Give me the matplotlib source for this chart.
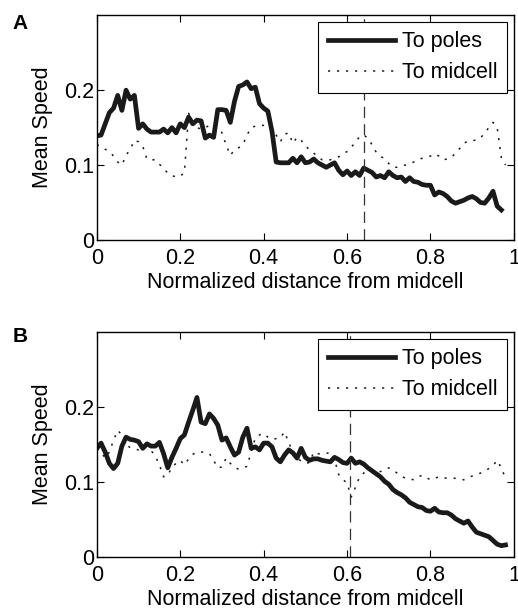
import numpy as np
import matplotlib
matplotlib.use("Agg")
import matplotlib.pyplot as plt

plt.rcParams['font.family'] = ['Liberation Sans', 'DejaVu Sans']

# panel A, sampled every 0.01 of normalized distance
poles_a = [0.139, 0.140, 0.155, 0.170, 0.176, 0.193, 0.173, 0.200, 0.188, 0.193,
           0.149, 0.155, 0.148, 0.144, 0.144, 0.144, 0.148, 0.143, 0.150, 0.143,
           0.155, 0.150, 0.164, 0.155, 0.160, 0.159, 0.136, 0.140, 0.137, 0.174,
           0.174, 0.173, 0.157, 0.185, 0.205, 0.207, 0.211, 0.202, 0.204, 0.182,
           0.176, 0.172, 0.145, 0.104, 0.103, 0.103, 0.103, 0.109, 0.103, 0.111,
           0.103, 0.104, 0.108, 0.103, 0.100, 0.097, 0.100, 0.103, 0.093, 0.087,
           0.092, 0.086, 0.091, 0.086, 0.096, 0.093, 0.090, 0.084, 0.086, 0.083,
           0.091, 0.086, 0.083, 0.084, 0.078, 0.083, 0.078, 0.077, 0.074, 0.073,
           0.073, 0.060, 0.064, 0.062, 0.058, 0.052, 0.049, 0.051, 0.053, 0.056,
           0.058, 0.055, 0.050, 0.049, 0.056, 0.065, 0.045, 0.040]
mid_a = [0.127, 0.125, 0.121, 0.118, 0.112, 0.104, 0.100, 0.113, 0.121, 0.133,
         0.131, 0.125, 0.108, 0.107, 0.107, 0.101, 0.096, 0.089, 0.086, 0.084,
         0.085, 0.090, 0.169, 0.158, 0.150, 0.148, 0.150, 0.153, 0.152, 0.151,
         0.143, 0.127, 0.113, 0.120, 0.123, 0.127, 0.140, 0.150, 0.152, 0.153,
         0.153, 0.151, 0.149, 0.140, 0.131, 0.141, 0.143, 0.129, 0.137, 0.133,
         0.125, 0.121, 0.116, 0.111, 0.107, 0.107, 0.107, 0.109, 0.111, 0.115,
         0.118, 0.124, 0.130, 0.138, 0.140, 0.136, 0.127, 0.117, 0.112, 0.108,
         0.102, 0.097, 0.097, 0.099, 0.100, 0.102, 0.104, 0.107, 0.109, 0.110,
         0.112, 0.115, 0.112, 0.107, 0.108, 0.110, 0.116, 0.122, 0.129, 0.132,
         0.133, 0.133, 0.136, 0.143, 0.150, 0.157, 0.150, 0.110, 0.100]

# panel B
poles_b = [0.145, 0.152, 0.140, 0.125, 0.118, 0.125, 0.148, 0.160, 0.157, 0.156,
           0.154, 0.145, 0.151, 0.148, 0.148, 0.153, 0.138, 0.119, 0.133, 0.145,
           0.158, 0.163, 0.180, 0.196, 0.213, 0.180, 0.178, 0.191, 0.185, 0.176,
           0.156, 0.159, 0.147, 0.136, 0.140, 0.160, 0.172, 0.145, 0.147, 0.143,
           0.152, 0.152, 0.147, 0.132, 0.127, 0.136, 0.143, 0.139, 0.132, 0.145,
           0.133, 0.129, 0.131, 0.131, 0.129, 0.128, 0.127, 0.133, 0.130, 0.126,
           0.125, 0.132, 0.125, 0.127, 0.124, 0.119, 0.115, 0.111, 0.107, 0.101,
           0.097, 0.090, 0.086, 0.083, 0.079, 0.073, 0.070, 0.067, 0.066, 0.062,
           0.061, 0.065, 0.060, 0.059, 0.059, 0.056, 0.051, 0.048, 0.045, 0.048,
           0.040, 0.033, 0.031, 0.029, 0.027, 0.022, 0.017, 0.015, 0.016]
mid_b = [0.145, 0.140, 0.132, 0.140, 0.156, 0.169, 0.163, 0.150, 0.146, 0.144,
         0.143, 0.148, 0.146, 0.142, 0.135, 0.123, 0.107, 0.109, 0.120, 0.125,
         0.129, 0.123, 0.131, 0.137, 0.140, 0.140, 0.140, 0.138, 0.129, 0.119,
         0.120, 0.132, 0.125, 0.120, 0.117, 0.119, 0.121, 0.140, 0.159, 0.163,
         0.165, 0.160, 0.157, 0.158, 0.159, 0.167, 0.153, 0.140, 0.132, 0.128,
         0.125, 0.126, 0.140, 0.138, 0.137, 0.138, 0.140, 0.130, 0.110, 0.103,
         0.099, 0.080, 0.093, 0.107, 0.112, 0.116, 0.115, 0.114, 0.114, 0.116,
         0.119, 0.116, 0.112, 0.108, 0.105, 0.104, 0.103, 0.107, 0.109, 0.106,
         0.103, 0.105, 0.107, 0.106, 0.105, 0.105, 0.105, 0.104, 0.103, 0.106,
         0.108, 0.110, 0.112, 0.115, 0.118, 0.122, 0.129, 0.119, 0.105]

vline_a = 0.64
vline_b = 0.607
xticks = [0, 0.2, 0.4, 0.6, 0.8, 1]
xticklabels = ["0", "0.2", "0.4", "0.6", "0.8", "1"]
yticks = [0, 0.1, 0.2]
yticklabels = ["0", "0.1", "0.2"]

fs = 15.5
fig = plt.figure(figsize=(5.18, 6.12), dpi=100)
axA = fig.add_axes([0.187, 0.608, 0.805, 0.367])
axB = fig.add_axes([0.187, 0.090, 0.805, 0.367])

panels = [(axA, poles_a, mid_a, vline_a, "A"), (axB, poles_b, mid_b, vline_b, "B")]
for ax, poles, mid, vl, lab in panels:
    xp = np.arange(len(poles)) * 0.01
    xm = np.arange(len(mid)) * 0.01
    ax.plot(xp, poles, color="#1a1a1a", lw=3.4, label="To poles")
    ax.plot(xm, mid, color="#1a1a1a", lw=1.1, linestyle=(0, (1.4, 4.5)), label="To midcell")
    ax.axvline(vl, color="#333333", lw=0.9, linestyle=(0, (9, 5)))
    ax.set_xlim(0, 1)
    ax.set_ylim(0, 0.3)
    ax.set_xticks(xticks)
    ax.set_xticklabels(xticklabels)
    ax.set_yticks(yticks)
    ax.set_yticklabels(yticklabels)
    ax.tick_params(direction="in", top=True, right=True, labelsize=fs, length=5, width=0.8)
    ax.tick_params(axis="x", pad=6)
    ax.tick_params(axis="y", pad=2)
    for s in ax.spines.values():
        s.set_linewidth(1.0)
    ax.set_xlabel("Normalized distance from midcell", fontsize=fs, labelpad=2)
    ax.set_ylabel("Mean Speed", fontsize=fs, labelpad=8)
    leg = ax.legend(loc="upper right", fontsize=fs, frameon=True, fancybox=False,
                    edgecolor="black", framealpha=1, handlelength=3.1, handletextpad=0.35,
                    borderpad=0.45, labelspacing=0.45, borderaxespad=0.3)
    leg.get_frame().set_linewidth(0.8)

fig.text(0.025, 0.962, "A", fontsize=15, fontweight="bold", va="center")
fig.text(0.025, 0.450, "B", fontsize=15, fontweight="bold", va="center")

fig.savefig("out.png", dpi=100)
